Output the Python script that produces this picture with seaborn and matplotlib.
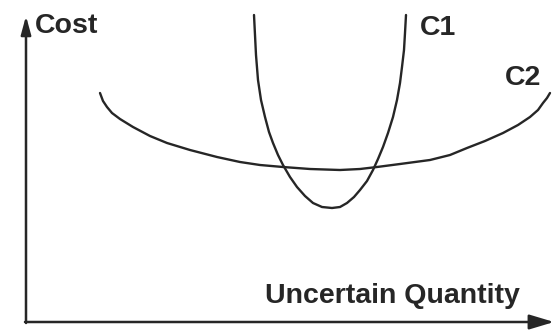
import matplotlib
matplotlib.use("Agg")
import matplotlib.pyplot as plt
import seaborn as sns
import pandas as pd

# ------------------------------------------------------------
# Curve points (x = quantity, y = cost)
# ------------------------------------------------------------
c1_x = [254, 255, 256, 258, 261, 265, 269, 273, 278, 283, 290, 297, 305, 313,
        322, 332, 340, 347, 354, 360, 367, 373, 378, 383, 388, 393, 397, 400,
        402, 404, 405, 406]
c1_cost = [317, 297, 277, 252, 232, 215, 200, 189, 177, 167, 155, 145, 136, 129,
           125, 124, 125, 129, 135, 142, 151, 162, 173, 185, 199, 215, 232, 249,
           265, 282, 299, 317]

c2_x = [100, 103, 107, 112, 120, 133, 150, 167, 190, 217, 240, 260, 283, 310,
        340, 360, 377, 400, 430, 450, 467, 485, 503, 518, 530, 538, 543, 547, 550]
c2_cost = [239, 231, 225, 219, 213, 205, 196, 189, 182, 175, 170, 167, 165, 163,
           162, 163, 165, 168, 172, 177, 184, 191, 199, 207, 215, 222, 229, 234, 239]

curve_labels = ["C1", "C2"]
axis_labels = ["Cost", "Uncertain Quantity"]

W, H = 555, 332
ink = "#262626"

sns.set_theme(style="white")
plt.rcParams["font.family"] = ["Liberation Sans", "DejaVu Sans"]

df = pd.concat([
    pd.DataFrame({"q": c1_x, "cost": c1_cost, "curve": curve_labels[0]}),
    pd.DataFrame({"q": c2_x, "cost": c2_cost, "curve": curve_labels[1]}),
])

fig = plt.figure(figsize=(W / 100, H / 100), dpi=100)
ax = fig.add_axes([0, 0, 1, 1])

sns.lineplot(data=df, x="q", y="cost", units="curve", estimator=None,
             sort=False, color=ink, lw=1.7, ax=ax, legend=False)

ax.set_xlim(0, W)
ax.set_ylim(0, H)
ax.set_axis_off()

# axes with arrow heads
ax.annotate("", xy=(26, H - 16), xytext=(26, H - 323),
            arrowprops=dict(arrowstyle="-|>,head_length=1.1,head_width=0.3",
                            mutation_scale=10, lw=1.8, color=ink,
                            shrinkA=0, shrinkB=0))
ax.annotate("", xy=(554, H - 322), xytext=(25, H - 322),
            arrowprops=dict(arrowstyle="-|>,head_length=1.5,head_width=0.45",
                            mutation_scale=10, lw=1.8, color=ink,
                            shrinkA=0, shrinkB=0))

txt = dict(fontsize=20.5, fontweight="bold", color=ink, va="baseline", ha="left")
ax.text(35, H - 33, axis_labels[0], **txt)
ax.text(265, H - 303, axis_labels[1], **txt)
ax.text(420, H - 35, curve_labels[0], **txt)
ax.text(505, H - 85, curve_labels[1], **txt)

fig.savefig("out.png", dpi=100)
